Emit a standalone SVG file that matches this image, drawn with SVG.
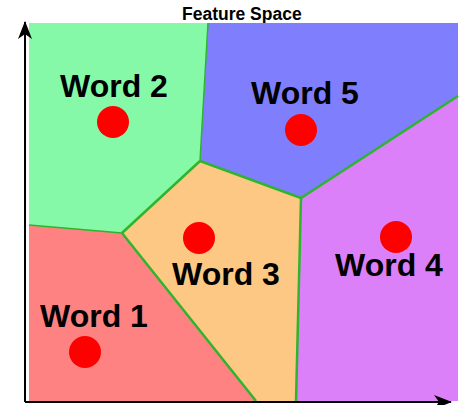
<svg xmlns="http://www.w3.org/2000/svg" width="464" height="405" viewBox="0 0 464 405">
  <defs>
    <style>
      .lbl { font-family: "Liberation Sans", Arial, sans-serif; font-weight: bold; font-size: 32px; fill: #000; }
      .title { font-family: "Liberation Sans", Arial, sans-serif; font-weight: bold; font-size: 17.5px; fill: #000; }
      .dot { fill: #FF0000; }
      .edge { stroke: #2DB52D; stroke-width: 2.5; fill: none; stroke-linejoin: round; }
      .thin { stroke-width: 1.5; }
      .axis { stroke: #000; stroke-width: 2; fill: none; }
    </style>
    <marker id="arr" viewBox="0 0 18 14" refX="17" refY="7" markerWidth="18" markerHeight="14" markerUnits="userSpaceOnUse" orient="auto">
      <path d="M0,0 L18,7 L0,14 L5,7 Z" fill="#000"/>
    </marker>
  </defs>
  <rect width="464" height="405" fill="#FFFFFF"/>
  <text class="title" x="182" y="20">Feature Space</text>

  <g id="word2">
    <polygon points="29,23 208,23 200,161 122,233 29,225" fill="#86F9A9"/>
    <circle class="dot" cx="113" cy="122" r="16"/>
    <text class="lbl" x="60" y="97">Word 2</text>
  </g>
  <g id="word5">
    <polygon points="208,23 458,23 458,96 301,198 200,161" fill="#7F7FFD"/>
    <circle class="dot" cx="301" cy="130" r="16"/>
    <text class="lbl" x="251" y="104">Word 5</text>
  </g>
  <g id="word3">
    <polygon points="200,161 301,198 296,401 256,401 122,233" fill="#FDC883"/>
    <circle class="dot" cx="199" cy="238" r="16"/>
    <text class="lbl" x="172" y="285">Word 3</text>
  </g>
  <g id="word4">
    <polygon points="301,198 458,96 458,401 296,401" fill="#DB80F8"/>
    <circle class="dot" cx="396" cy="237" r="16"/>
    <text class="lbl" x="335" y="276">Word 4</text>
  </g>
  <g id="word1">
    <polygon points="29,225 122,233 256,401 29,401" fill="#FF8282"/>
    <circle class="dot" cx="85" cy="352" r="16"/>
    <text class="lbl" x="40" y="327">Word 1</text>
  </g>

  <g id="connectors">
    <line class="edge thin" x1="208" y1="23" x2="200" y2="161"/>
    <line class="edge" x1="200" y1="161" x2="301" y2="198"/>
    <line class="edge" x1="301" y1="198" x2="458" y2="96"/>
    <line class="edge" x1="301" y1="198" x2="296" y2="401"/>
    <line class="edge" x1="200" y1="161" x2="122" y2="233"/>
    <line class="edge" x1="122" y1="233" x2="256" y2="401"/>
    <line class="edge thin" x1="29" y1="225" x2="122" y2="233"/>
  </g>

  <g id="axes">
    <line class="axis" x1="25" y1="402" x2="25" y2="22" marker-end="url(#arr)"/>
    <line class="axis" x1="25" y1="402" x2="451" y2="402" marker-end="url(#arr)"/>
  </g>
</svg>
